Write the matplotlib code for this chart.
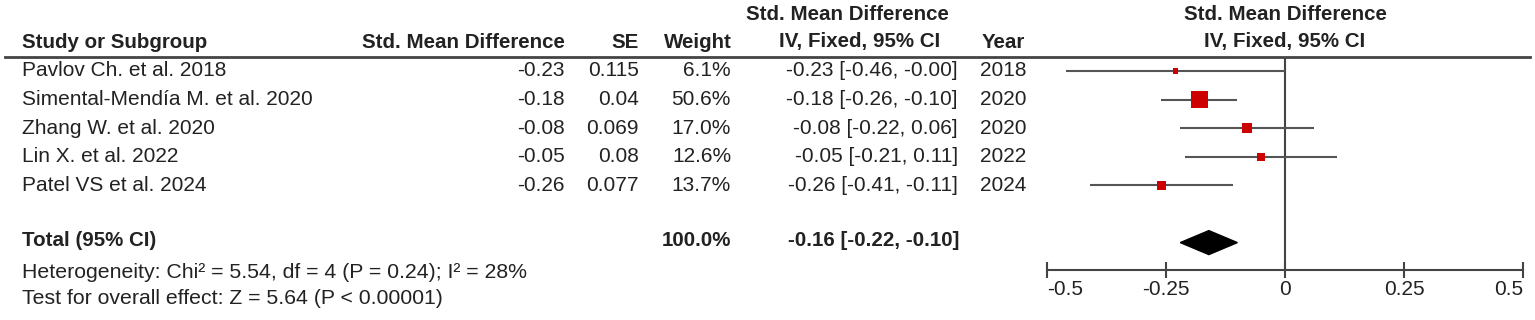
import numpy as np
import matplotlib
matplotlib.use('Agg')
from matplotlib import pyplot as plt
from matplotlib import transforms
from matplotlib.lines import Line2D
from matplotlib.patches import Polygon

plt.rcParams['font.family'] = ['Liberation Sans', 'DejaVu Sans']

################### data
studies = ['Pavlov Ch. et al. 2018', 'Simental-Mendía M. et al. 2020', 'Zhang W. et al. 2020',
           'Lin X. et al. 2022', 'Patel VS et al. 2024']
smd = [-0.23, -0.18, -0.08, -0.05, -0.26]
se = ['0.115', '0.04', '0.069', '0.08', '0.077']
weight = [6.1, 50.6, 17.0, 12.6, 13.7]
ci_lo = [-0.46, -0.26, -0.22, -0.21, -0.41]
ci_hi = [-0.00, -0.10, 0.06, 0.11, -0.11]
years = [2018, 2020, 2020, 2022, 2024]
total_est, total_lo, total_hi = -0.16, -0.22, -0.10
het_text = 'Heterogeneity: Chi² = 5.54, df = 4 (P = 0.24); I² = 28%'
test_text = 'Test for overall effect: Z = 5.64 (P < 0.00001)'
xticks = [-0.5, -0.25, 0, 0.25, 0.5]
xticklabels = ['-0.5', '-0.25', '0', '0.25', '0.5']

################### layout (pixels)
W, H = 1535, 320
row0, step = 71, 28.6      # y px of first row, row spacing
def py(px):
    return (px - row0) / step
txt = '#222222'
lc = '#444444'
hs = 14.8   # header (bold) font size

fig = plt.figure(figsize=(W / 100, H / 100), dpi=100)
# forest axes: -0.5 at 1047 px, 0.5 at 1523 px, top = header rule, bottom = axis line
ax = fig.add_axes([1047 / W, (H - 270) / H, 476 / W, (270 - 57) / H])
ax.set_xlim(-0.5, 0.5)
ax.set_ylim(py(270), py(57))
for s in ['left', 'top', 'right']:
    ax.spines[s].set_visible(False)
ax.spines['bottom'].set_color(lc)
ax.spines['bottom'].set_linewidth(1.5)
ax.set_yticks([])
ax.set_xticks(xticks)
ax.set_xticklabels(xticklabels)
ax.tick_params(axis='x', direction='inout', length=11, width=1.5, color=lc,
               labelsize=15, labelcolor=txt, pad=2)
labs = ax.get_xticklabels()
labs[0].set_ha('left')
labs[-1].set_ha('right')

rows = np.arange(len(studies))
ax.axvline(0, color=lc, lw=1.5)
ax.hlines(rows, ci_lo, ci_hi, color='#555555', lw=1.5)
side_px = 17 * np.sqrt(np.array(weight) / 50.6)   # box area ~ weight
ax.scatter(smd, rows, marker='s', s=(side_px * 0.72) ** 2, color='#CC0000', linewidths=0, zorder=3)
ty = 6
h = 12 / step
ax.add_patch(Polygon([[total_lo, ty], [total_est, ty - h], [total_hi, ty], [total_est, ty + h]],
                     closed=True, color='black', zorder=3))

# table text: x in figure pixels, y in row units
tr = transforms.blended_transform_factory(fig.transFigure, ax.transData)
def put(xpx, y, s, ha='left', bold=False, size=15):
    ax.text(xpx / W, y, s, transform=tr, ha=ha, va='center', fontsize=size,
            fontweight='bold' if bold else 'normal', color=txt)

hy1, hy2 = py(15), py(42)
put(22, hy2, 'Study or Subgroup', bold=True, size=hs)
put(565, hy2, 'Std. Mean Difference', ha='right', bold=True, size=hs)
put(639, hy2, 'SE', ha='right', bold=True, size=hs)
put(732, hy2, 'Weight', ha='right', bold=True, size=hs)
put(847, hy1, 'Std. Mean Difference', ha='center', bold=True, size=hs)
put(940, hy2, 'IV, Fixed, 95% CI', ha='right', bold=True, size=hs)
put(982, hy2, 'Year', bold=True, size=hs)
ax.text(0, hy1, 'Std. Mean Difference', ha='center', va='center', fontsize=hs,
        fontweight='bold', color=txt)
ax.text(0, hy2, 'IV, Fixed, 95% CI', ha='center', va='center', fontsize=hs,
        fontweight='bold', color=txt)
fig.add_artist(Line2D([5 / W, 1530 / W], [(H - 57) / H] * 2, transform=fig.transFigure,
                      color=lc, lw=2))

for i in rows:
    put(22, i, studies[i])
    put(565, i, '%.2f' % smd[i], ha='right')
    put(639, i, se[i], ha='right')
    put(731, i, '%.1f%%' % weight[i], ha='right')
    put(958, i, '%.2f [%.2f, %.2f]' % (smd[i], ci_lo[i], ci_hi[i]), ha='right')
    put(980, i, str(years[i]))

put(22, py(241), 'Total (95% CI)', bold=True, size=hs)
put(731, py(241), '%.1f%%' % sum(weight), ha='right', bold=True, size=hs)
put(959, py(241), '%.2f [%.2f, %.2f]' % (total_est, total_lo, total_hi), ha='right', bold=True, size=hs)
put(22, py(273), het_text, size=15.3)
put(22, py(298), test_text, size=15.3)

fig.savefig('out.png', dpi=100, facecolor='white')
